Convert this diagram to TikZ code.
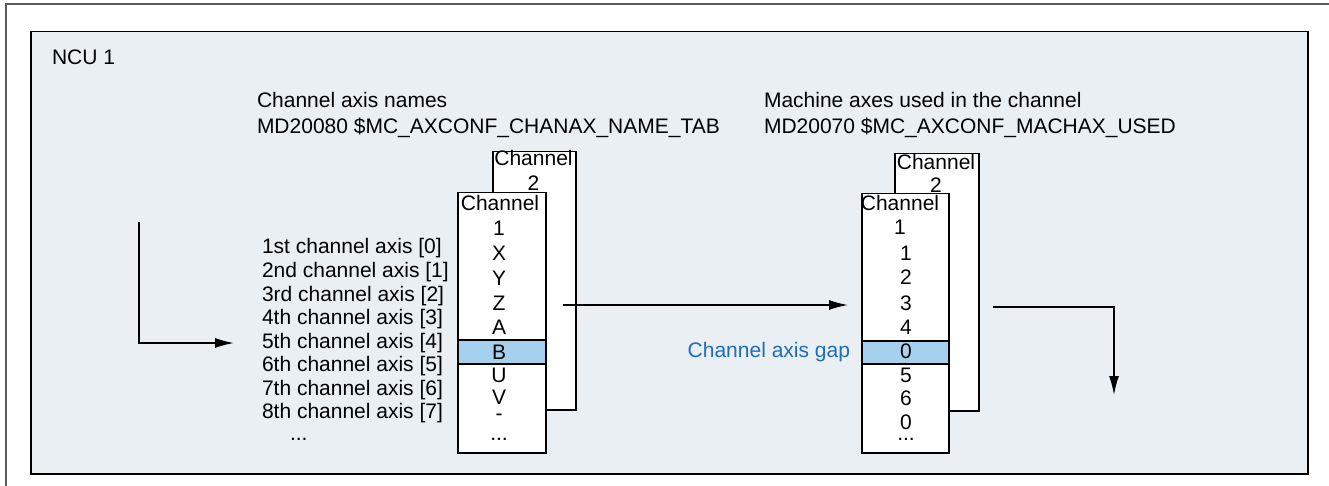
\documentclass[tikz,border=0pt]{standalone}
\usepackage{fontspec}
\setmainfont{Liberation Sans}
\usetikzlibrary{arrows.meta}
\definecolor{panelfill}{RGB}{234,239,244}
\definecolor{hlblue}{RGB}{166,209,238}
\definecolor{gapblue}{RGB}{30,108,188}
\definecolor{framegray}{RGB}{90,90,90}
\tikzset{
  txt/.style={inner sep=0pt, outer sep=0pt, font=\fontsize{21pt}{24pt}\selectfont},
  lt/.style={txt, anchor=base west},
  ct/.style={txt, anchor=base},
  tablebox/.style={draw=black, line width=1.5pt, fill=white},
  hlrow/.style={draw=black, line width=1.5pt, fill=hlblue},
  arr/.style={draw=black, line width=1.5pt, -{Latex[length=19pt,width=10pt]}}
}
\begin{document}
\begin{tikzpicture}[x=1pt,y=-1pt]
\useasboundingbox (0,0) rectangle (1329,486);
% outer frame and panel
\draw[framegray, line width=1.5pt] (6,4) rectangle (1340,500);
\node[draw=black, line width=1.5pt, fill=panelfill, inner sep=0pt, anchor=north west,
      minimum width=1277pt, minimum height=442pt] (panel) at (30,31) {};
\node[lt] (ncu) at (52,64.5) {NCU 1};
% titles
\node[lt] (t1a) at (257,108) {Channel axis names};
\node[lt] (t1b) at (257,134) {MD20080 \$MC\_AXCONF\_CHANAX\_NAME\_TAB};
\node[lt] (t2a) at (764,108) {Machine axes used in the channel};
\node[lt] (t2b) at (764,134) {MD20070 \$MC\_AXCONF\_MACHAX\_USED};
% left row labels
\node[lt] (r1) at (262,254) {1st channel axis [0]};
\node[lt] (r2) at (262,277.5) {2nd channel axis [1]};
\node[lt] (r3) at (262,301) {3rd channel axis [2]};
\node[lt] (r4) at (262,324.5) {4th channel axis [3]};
\node[lt] (r5) at (262,348) {5th channel axis [4]};
\node[lt] (r6) at (262,371.5) {6th channel axis [5]};
\node[lt] (r7) at (262,395) {7th channel axis [6]};
\node[lt] (r8) at (262,418.5) {8th channel axis [7]};
\node[lt] (r9) at (290,440) {...};
% left table: channel 2 (back)
\node[tablebox, inner sep=0pt, anchor=north west, minimum width=83pt, minimum height=258pt] (lb2) at (492,151) {};
\node[ct] (lb2a) at (533.5,165.5) {Channel};
\node[ct] (lb2b) at (533.5,190.5) {2};
% left table: channel 1 (front)
\node[tablebox, inner sep=0pt, anchor=north west, minimum width=88pt, minimum height=260pt] (lb1) at (457,192) {};
\node[hlrow, inner sep=0pt, anchor=north west, minimum width=88pt, minimum height=24pt] (lhl) at (457,339) {};
\node[ct] (lc0) at (500,210.5) {Channel};
\node[ct] (lc1) at (499,235.5) {1};
\node[ct] (lx) at (499,260.5) {X};
\node[ct] (ly) at (499,285.5) {Y};
\node[ct] (lz) at (499,310.5) {Z};
\node[ct] (la) at (499,334.5) {A};
\node[ct] (lbb) at (499,359.5) {B};
\node[ct] (lu) at (499,382.5) {U};
\node[ct] (lv) at (499,404.5) {V};
\node[ct] (ld) at (499,420) {-};
\node[ct] (le) at (499,440) {...};
% right table: channel 2 (back)
\node[tablebox, inner sep=0pt, anchor=north west, minimum width=84pt, minimum height=257pt] (rb2) at (894,153) {};
\node[ct] (rb2a) at (936,169.5) {Channel};
\node[ct] (rb2b) at (936,192.5) {2};
% right table: channel 1 (front)
\node[tablebox, inner sep=0pt, anchor=north west, minimum width=87pt, minimum height=259pt] (rb1) at (861,193) {};
\node[hlrow, inner sep=0pt, anchor=north west, minimum width=87pt, minimum height=23pt] (rhl) at (861,340) {};
\node[ct] (rc0) at (900,210.5) {Channel};
\node[ct] (rc1) at (900,234.5) {1};
\node[ct] (rn1) at (906,260.5) {1};
\node[ct] (rn2) at (906,284.5) {2};
\node[ct] (rn3) at (906,310.5) {3};
\node[ct] (rn4) at (906,334.5) {4};
\node[ct] (rn5) at (906,358.5) {0};
\node[ct] (rn6) at (906,382.5) {5};
\node[ct] (rn7) at (906,405.5) {6};
\node[ct] (rn8) at (906,429.5) {0};
\node[ct] (rn9) at (906,440) {...};
% gap label
\node[txt, anchor=base east, text=gapblue] (gap) at (850,357) {Channel axis gap};
% connectors
\coordinate (ls) at (139,222);
\coordinate (le2) at (234,343);
\draw[arr] (ls) |- (le2);
\coordinate (ms) at (563,305);
\coordinate (me) at (848,305);
\draw[arr] (ms) -- (me);
\coordinate (rs) at (993,307);
\coordinate (re) at (1114,395);
\draw[arr] (rs) -| (re);
\end{tikzpicture}
\end{document}
